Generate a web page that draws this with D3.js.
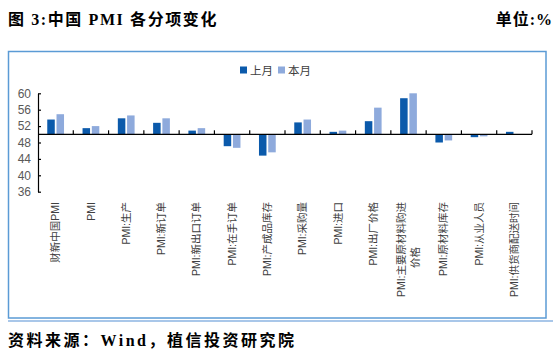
<!DOCTYPE html>
<html>
<head>
<meta charset="utf-8">
<script src="https://cdn.jsdelivr.net/npm/d3@7"></script>
<style>
  html, body { margin: 0; padding: 0; background: #fff; }
  svg { display: block; }
</style>
</head>
<body>
<svg id="chart" width="558" height="355"></svg>
<script>
// ---- data ----
const categories = [
  "财新中国PMI", "PMI", "PMI:生产", "PMI:新订单", "PMI:新出口订单", "PMI:在手订单",
  "PMI:产成品库存", "PMI:采购量", "PMI:进口", "PMI:出厂价格",
  "PMI:主要原材料购进价格", "PMI:原材料库存", "PMI:从业人员", "PMI:供货商配送时间"
];
const labelLines = [
  ["财新中国PMI"], ["PMI"], ["PMI:生产"], ["PMI:新订单"], ["PMI:新出口订单"], ["PMI:在手订单"],
  ["PMI:产成品库存"], ["PMI:采购量"], ["PMI:进口"], ["PMI:出厂价格"],
  ["PMI:主要原材料购进", "价格"], ["PMI:原材料库存"], ["PMI:从业人员"], ["PMI:供货商配送时间"]
];
const seriesNames = ["上月", "本月"];
const lastMonth = [53.6, 51.5, 53.9, 52.8, 50.9, 47.1, 44.8, 52.9, 50.6, 53.2, 58.8, 48.0, 49.3, 50.6];
const thisMonth = [54.9, 52.0, 54.6, 53.9, 51.5, 46.7, 45.6, 53.6, 50.9, 56.5, 60.0, 48.5, 49.5, 50.0];
const yTicks = [36, 40, 44, 48, 52, 56, 60];
const baseValue = 50;
const colors = ["#0b5aab", "#8eaadc"];

// ---- drawing ----
const svg = d3.select("#chart");
const sansFont = "'Liberation Sans', Arial, 'Noto Sans CJK SC', sans-serif";
const serifFont = "'Liberation Serif', 'Times New Roman', 'Noto Sans CJK SC', serif";

// title
svg.append("text").attr("x", 8).attr("y", 25)
  .style("font-family", serifFont).style("font-weight", "bold").style("font-size", "16px")
  .style("letter-spacing", "1.6px").style("white-space", "pre")
  .attr("fill", "#000").text("图 3:中国 PMI 各分项变化");
svg.append("text").attr("x", 553).attr("y", 25).attr("text-anchor", "end")
  .style("font-family", serifFont).style("font-weight", "bold").style("font-size", "16px")
  .style("letter-spacing", "1px")
  .attr("fill", "#000").text("单位:%");

// frame
svg.append("rect").attr("x", 8.5).attr("y", 51.5).attr("width", 537.5).attr("height", 266.5)
  .attr("fill", "none").attr("stroke", "#5b9bd5").attr("stroke-width", 1.5);
svg.append("line").attr("x1", 8).attr("x2", 553).attr("y1", 321).attr("y2", 321)
  .attr("stroke", "#8db4e2").attr("stroke-width", 1.5);

// footer
svg.append("text").attr("x", 8).attr("y", 346)
  .style("font-family", serifFont).style("font-weight", "bold").style("font-size", "16px")
  .style("letter-spacing", "2.5px")
  .attr("fill", "#000").text("资料来源：Wind，植信投资研究院");

// scales
const x = d3.scaleBand().domain(categories).range([38, 532]).paddingInner(0).paddingOuter(0);
const xs = d3.scaleBand().domain(seriesNames).range([0, x.bandwidth()]).paddingInner(0.19).paddingOuter(1.0);
const y = d3.scaleLinear().domain([36, 60]).range([191.7, 93.3]);

// legend
const lg = svg.append("g");
const legendX = [240, 278];
seriesNames.forEach((s, i) => {
  lg.append("rect").attr("x", legendX[i]).attr("y", 66.5).attr("width", 7).attr("height", 7).attr("fill", colors[i]);
  lg.append("text").attr("x", legendX[i] + 10).attr("y", 74.5)
    .style("font-family", sansFont).style("font-size", "11.5px").attr("fill", "#404040").text(s);
});

// bars
const seriesData = [lastMonth, thisMonth];
seriesData.forEach((vals, si) => {
  svg.append("g").selectAll("rect").data(vals).join("rect")
    .attr("x", (d, i) => x(categories[i]) + xs(seriesNames[si]))
    .attr("width", xs.bandwidth())
    .attr("y", d => Math.min(y(d), y(baseValue)))
    .attr("height", d => Math.abs(y(d) - y(baseValue)))
    .attr("fill", colors[si]);
});

// y axis
const yAxis = d3.axisLeft(y).tickValues(yTicks).tickSize(-3).tickPadding(7).tickSizeOuter(0);
const yg = svg.append("g").attr("transform", "translate(38,0)").call(yAxis);
yg.select(".domain").attr("stroke", "#000").attr("stroke-width", 1.2);
yg.selectAll(".tick line").attr("stroke", "#000").attr("stroke-width", 1.2);
yg.selectAll(".tick text").style("font-family", sansFont).style("font-size", "12px").attr("fill", "#595959");

// x axis at baseline
const x0 = y(baseValue);
svg.append("line").attr("x1", 38).attr("x2", 532).attr("y1", x0).attr("y2", x0)
  .attr("stroke", "#000").attr("stroke-width", 1.2);
const boundaries = categories.slice(1).map(c => x(c)).concat([x(categories[categories.length - 1]) + x.bandwidth()]);
svg.append("g").selectAll("line").data(boundaries).join("line")
  .attr("x1", d => d).attr("x2", d => d).attr("y1", x0).attr("y2", x0 - 4)
  .attr("stroke", "#000").attr("stroke-width", 1.2);

// x labels (rotated)
const lab = svg.append("g");
categories.forEach((c, i) => {
  const cx = x(c) + x.bandwidth() / 2;
  const lines = labelLines[i];
  const n = lines.length;
  lines.forEach((t, li) => {
    const off = (li - (n - 1) / 2) * 14;
    const yy = li === 0 ? 202 : 247;
    lab.append("text")
      .attr("transform", `translate(${cx + off},${yy}) rotate(-90)`)
      .attr("text-anchor", "end").attr("dy", "0.35em")
      .style("font-family", sansFont).style("font-size", "10.5px").attr("fill", "#404040")
      .text(t);
  });
});
</script>
</body>
</html>
